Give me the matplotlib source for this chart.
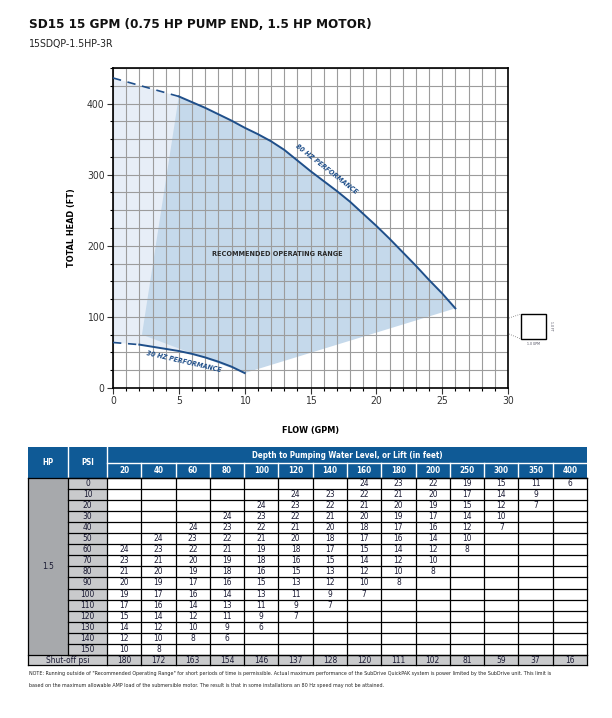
import numpy as np
import matplotlib.pyplot as plt
from matplotlib.patches import Rectangle, Polygon

plt.rcParams['font.family'] = ['DejaVu Sans']
plt.rcParams['font.stretch'] = 'condensed'

# --- chart data (flow gpm, head ft) ---
hz80_dash_x = [0, 5]
hz80_dash_y = [436, 410]
hz80_x = [5, 6, 7, 8, 9, 10, 11, 12, 13, 14, 15, 16, 17, 18, 19, 20, 21, 22, 23, 24, 25, 26]
hz80_y = [410, 402, 394, 385, 376, 366, 357, 347, 335, 320, 305, 291, 277, 262, 245, 228, 210, 191, 172, 152, 133, 112]
hz30_dash_x = [0, 2]
hz30_dash_y = [64, 61]
hz30_x = [2, 3, 4, 5, 6, 7, 8, 9, 10]
hz30_y = [61, 58, 55, 52, 48, 43, 37, 30, 21]
range_left_x = [2.2]
range_left_y = [75]

# --- table data ---
depths = [20, 40, 60, 80, 100, 120, 140, 160, 180, 200, 250, 300, 350, 400]
psi = [0, 10, 20, 30, 40, 50, 60, 70, 80, 90, 100, 110, 120, 130, 140, 150]
N = None
gpm = [
    [N, N, N, N, N, N, N, 24, 23, 22, 19, 15, 11, 6],
    [N, N, N, N, N, 24, 23, 22, 21, 20, 17, 14, 9, N],
    [N, N, N, N, 24, 23, 22, 21, 20, 19, 15, 12, 7, N],
    [N, N, N, 24, 23, 22, 21, 20, 19, 17, 14, 10, N, N],
    [N, N, 24, 23, 22, 21, 20, 18, 17, 16, 12, 7, N, N],
    [N, 24, 23, 22, 21, 20, 18, 17, 16, 14, 10, N, N, N],
    [24, 23, 22, 21, 19, 18, 17, 15, 14, 12, 8, N, N, N],
    [23, 21, 20, 19, 18, 16, 15, 14, 12, 10, N, N, N, N],
    [21, 20, 19, 18, 16, 15, 13, 12, 10, 8, N, N, N, N],
    [20, 19, 17, 16, 15, 13, 12, 10, 8, N, N, N, N, N],
    [19, 17, 16, 14, 13, 11, 9, 7, N, N, N, N, N, N],
    [17, 16, 14, 13, 11, 9, 7, N, N, N, N, N, N, N],
    [15, 14, 12, 11, 9, 7, N, N, N, N, N, N, N, N],
    [14, 12, 10, 9, 6, N, N, N, N, N, N, N, N, N],
    [12, 10, 8, 6, N, N, N, N, N, N, N, N, N, N],
    [10, 8, N, N, N, N, N, N, N, N, N, N, N, N],
]
shutoff = [180, 172, 163, 154, 146, 137, 128, 120, 111, 102, 81, 59, 37, 16]

blue = '#1f4f8a'
hdr_blue = '#0f5a96'
pale = '#e7eef7'
dark = '#c5d9eb'

W, H = 612, 718
fig = plt.figure(figsize=(W / 100, H / 100), dpi=100)

# chart
ax = fig.add_axes([113 / W, 1 - 388 / H, 395 / W, 320 / H])
ax.set_xlim(0, 30)
ax.set_ylim(0, 450)

pale_pts = list(zip(hz80_dash_x, hz80_dash_y)) + [(hz30_x[-1], hz30_y[-1])] + \
    list(zip(hz30_x[::-1], hz30_y[::-1])) + list(zip(hz30_dash_x[::-1], hz30_dash_y[::-1]))
ax.add_patch(Polygon(pale_pts, closed=True, fc=pale, ec='none', zorder=0.2))
dark_pts = list(zip(hz80_x, hz80_y)) + [(hz30_x[-1], hz30_y[-1])] + list(zip(range_left_x, range_left_y))
ax.add_patch(Polygon(dark_pts, closed=True, fc=dark, ec='none', zorder=0.3))

ax.set_xticks(np.arange(0, 31, 5))
ax.set_xticks(np.arange(0, 31, 1), minor=True)
ax.set_yticks(np.arange(0, 401, 100))
ax.set_yticks(np.arange(0, 451, 25), minor=True)
ax.set_axisbelow(True)
ax.grid(True, which='both', color='#9c9c9c', lw=0.8)
ax.tick_params(which='major', length=4, width=0.8, labelsize=7.5, colors='#333333', pad=2)
ax.tick_params(which='minor', length=2.5, width=0.8)
for s in ax.spines.values():
    s.set_color('black')
    s.set_linewidth(1.2)

ax.plot(hz80_dash_x, hz80_dash_y, color=blue, lw=1.2, ls=(0, (5, 4)), zorder=3)
ax.plot(hz80_x, hz80_y, color=blue, lw=1.4, zorder=3)
ax.plot(hz30_dash_x, hz30_dash_y, color=blue, lw=1.2, ls=(0, (5, 4)), zorder=3)
ax.plot(hz30_x, hz30_y, color=blue, lw=1.4, zorder=3)

ax.text(16.2, 308, '80 HZ PERFORMANCE', rotation=-38, color=blue, fontsize=5,
        fontweight='bold', style='italic', ha='center', va='center', zorder=4)
ax.text(5.4, 37, '30 HZ PERFORMANCE', rotation=-13, color=blue, fontsize=5,
        fontweight='bold', style='italic', ha='center', va='center', zorder=4)
ax.text(12.5, 188, 'RECOMMENDED OPERATING RANGE', color='#2a2a2a', fontsize=5.2,
        fontweight='bold', ha='center', va='center', zorder=4)
ax.set_xlabel('FLOW (GPM)', fontsize=6.5, fontweight='bold', labelpad=14)
ax.set_ylabel('TOTAL HEAD (FT)', fontsize=6.5, fontweight='bold', labelpad=8)

# overlay in pixel coords
ov = fig.add_axes([0, 0, 1, 1])
ov.set_xlim(0, W)
ov.set_ylim(H, 0)
ov.axis('off')
ov.patch.set_alpha(0)

ov.text(29, 25, 'SD15 15 GPM (0.75 HP PUMP END, 1.5 HP MOTOR)', fontsize=9.6,
        fontweight='bold', va='center', ha='left', color='#111111')
ov.text(29, 44, '15SDQP-1.5HP-3R', fontsize=7.6, va='center', ha='left', color='#222222')

# small scale box at right
ov.add_patch(Rectangle((521, 314), 25, 25, fc='white', ec='black', lw=1))
ov.plot([509, 521], [318, 314], color='#777777', lw=0.6, ls=':')
ov.plot([509, 521], [334, 339], color='#777777', lw=0.6, ls=':')
ov.text(533, 344, '1.0 GPM', fontsize=2.5, ha='center', va='center', color='#445')
ov.text(551, 326, '1.0 FT', fontsize=2.5, ha='center', va='center', rotation=270, color='#445')

# table
x0, x_hp, x_psi, x1 = 28, 68, 107, 587
cw = (x1 - x_psi) / len(depths)
y0, y_mid, y_hdr = 447, 463, 478
rh = 11.05
y_so = y_hdr + rh * len(psi)
y1 = y_so + 10.5

ov.add_patch(Rectangle((x0, y0), x1 - x0, y_hdr - y0, fc=hdr_blue, ec='none'))
ov.add_patch(Rectangle((x0, y_hdr), x_hp - x0, y_so - y_hdr, fc='#a7a9ac', ec='none'))
ov.add_patch(Rectangle((x_hp, y_hdr), x_psi - x_hp, y_so - y_hdr, fc='#c9cacc', ec='none'))
ov.add_patch(Rectangle((x0, y_so), x1 - x0, y1 - y_so, fc='#c9cacc', ec='none'))

# header lines (white)
for xv in [x_hp, x_psi]:
    ov.plot([xv, xv], [y0, y_hdr], color='white', lw=1)
ov.plot([x_psi, x1], [y_mid, y_mid], color='white', lw=1)
for i in range(1, len(depths)):
    xv = x_psi + i * cw
    ov.plot([xv, xv], [y_mid, y_hdr], color='white', lw=1)

hdr_kw = dict(color='white', fontsize=5.8, fontweight='bold', ha='center', va='center')
ov.text((x0 + x_hp) / 2, (y0 + y_hdr) / 2, 'HP', **hdr_kw)
ov.text((x_hp + x_psi) / 2, (y0 + y_hdr) / 2, 'PSI', **hdr_kw)
ov.text((x_psi + x1) / 2, (y0 + y_mid) / 2, 'Depth to Pumping Water Level, or Lift (in feet)', **hdr_kw)
for i, d in enumerate(depths):
    ov.text(x_psi + (i + 0.5) * cw, (y_mid + y_hdr) / 2, str(d), **hdr_kw)

# body lines (black)
lw_t = 0.9
for j in range(len(psi) + 1):
    yv = y_hdr + j * rh
    ov.plot([x_hp, x1], [yv, yv], color='black', lw=lw_t)
ov.plot([x0, x1], [y_hdr, y_hdr], color='black', lw=lw_t)
ov.plot([x0, x1], [y_so, y_so], color='black', lw=lw_t)
ov.plot([x0, x1], [y1, y1], color='black', lw=lw_t)
ov.plot([x_hp, x_hp], [y_hdr, y_so], color='black', lw=lw_t)
for i in range(len(depths) + 1):
    xv = x_psi + i * cw
    ov.plot([xv, xv], [y_hdr, y1], color='black', lw=lw_t)
ov.plot([x0, x0], [y_hdr, y1], color='black', lw=lw_t)

txt_kw = dict(color='#1a1a33', fontsize=6, ha='center', va='center')
ov.text((x0 + x_hp) / 2, (y_hdr + y_so) / 2, '1.5', **txt_kw)
for j, p in enumerate(psi):
    yc = y_hdr + (j + 0.5) * rh
    ov.text((x_hp + x_psi) / 2, yc, str(p), **txt_kw)
    for i, v in enumerate(gpm[j]):
        if v is not None:
            ov.text(x_psi + (i + 0.5) * cw, yc, str(v), **txt_kw)
ov.text((x0 + x_psi) / 2, (y_so + y1) / 2, 'Shut-off psi', **txt_kw)
for i, v in enumerate(shutoff):
    ov.text(x_psi + (i + 0.5) * cw, (y_so + y1) / 2, str(v), **txt_kw)

note1 = ('NOTE: Running outside of "Recommended Operating Range" for short periods of time is permissible. '
         'Actual maximum performance of the SubDrive QuickPAK system is power limited by the SubDrive unit. This limit is')
note2 = ('based on the maximum allowable AMP load of the submersible motor. '
         'The result is that in some installations an 80 Hz speed may not be attained.')
ov.text(29, 674, note1, fontsize=3.85, ha='left', va='center', color='#222222')
ov.text(29, 685, note2, fontsize=3.85, ha='left', va='center', color='#222222')

fig.savefig('out.png', dpi=100)
